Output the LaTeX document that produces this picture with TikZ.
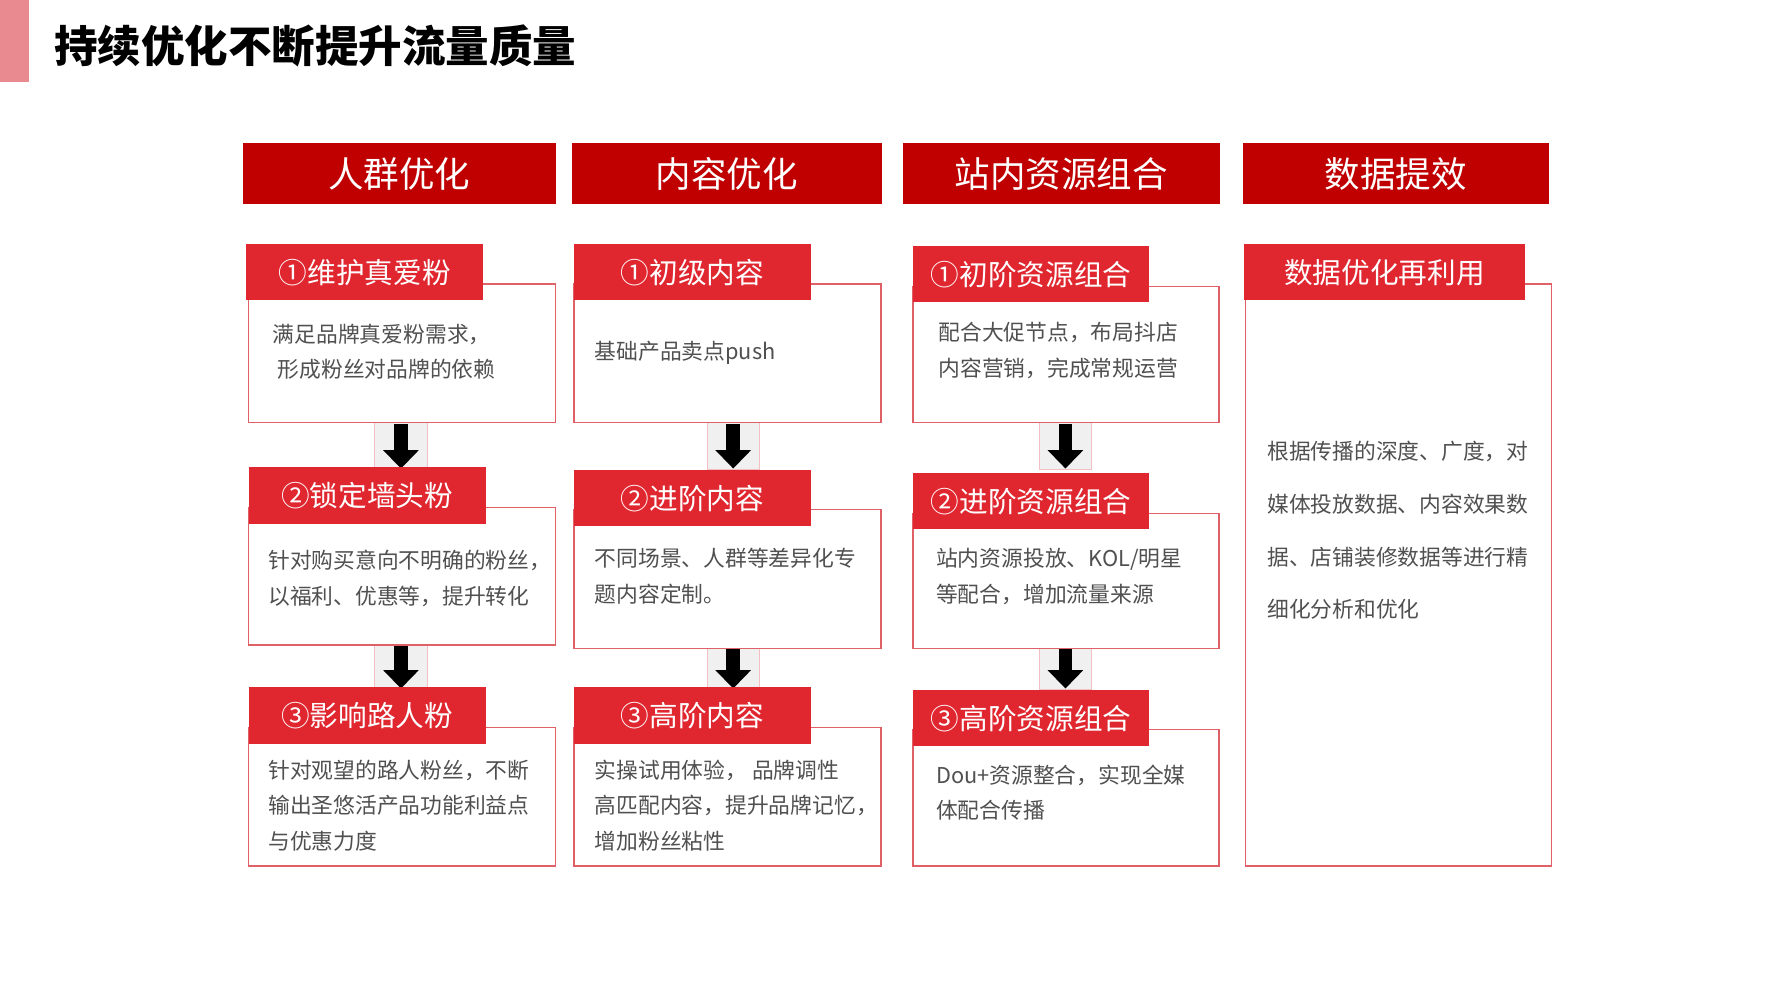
\documentclass[tikz,border=0pt]{standalone}
\usepackage{fontspec}
\setmainfont{Noto Sans CJK SC}
\usetikzlibrary{arrows.meta}
\definecolor{hdr}{HTML}{C00000}
\definecolor{tab}{HTML}{E0262F}
\definecolor{edge}{HTML}{E06068}
\definecolor{txt}{HTML}{505050}
\definecolor{pinkbar}{HTML}{E88A8F}
\tikzset{
 frame/.style={draw=edge,line width=1.2pt,fill=white},
 body/.style={text=txt,font=\fontsize{19}{31}\selectfont,anchor=west,align=left,inner sep=0},
 downarr/.style={line width=12pt,-{Triangle[width=30pt,length=16pt]},black},
 arrbg/.style={fill=black!6,draw=edge!40,line width=0.6pt}
}
\begin{document}
\begin{tikzpicture}[x=1pt,y=-1pt]
\useasboundingbox (0,0) rectangle (1552,873);
\fill[white] (0,0) rectangle (1552,873);
\fill[pinkbar] (0,0) rectangle (25,72);
\node[anchor=west,font=\fontsize{38}{38}\selectfont\bfseries,inner sep=0] (title) at (47,40) {持续优化不断提升流量质量};
\foreach \n/\a/\b/\t in {h1/212/485/人群优化,h2/499/770/内容优化,h3/788/1065/站内资源组合,h4/1085/1352/数据提效}{
 \fill[hdr] (\a,125) rectangle (\b,178);
 \node[text=white,font=\fontsize{31}{31}\selectfont,inner sep=0] (\n) at ({(\a+\b)/2},152) {\t};
}
\foreach \c/\x in {1/350,2/640,3/930}{
 \draw[arrbg] (\x-23,369) rectangle (\x+23,410);
 \draw[arrbg] (\x-23,563) rectangle (\x+23,602);
 \coordinate (a\c s1) at (\x,370); \coordinate (a\c e1) at (\x,409);
 \coordinate (a\c s2) at (\x,564); \coordinate (a\c e2) at (\x,601);
 \draw[downarr] (a\c s1) -- (a\c e1);
 \draw[downarr] (a\c s2) -- (a\c e2);
}
\newcommand{\stepcard}[8]{%
 \draw[frame] (#4,#6+35) rectangle (#5,#7);
 \fill[tab] (#2,#6) rectangle (#3,#6+49);
 \node[text=white,font=\fontsize{25}{25}\selectfont,inner sep=0] (#1) at ({(#2+#3)/2},#6+25) {#8};
}
\stepcard{c11}{215}{422}{217}{485}{213}{369}{①维护真爱粉}
\stepcard{c12}{217}{424}{217}{485}{408}{563}{②锁定墙头粉}
\stepcard{c13}{217}{424}{217}{485}{600}{756}{③影响路人粉}
\stepcard{c21}{501}{708}{501}{769}{213}{369}{①初级内容}
\stepcard{c22}{501}{708}{501}{769}{410}{566}{②进阶内容}
\stepcard{c23}{501}{708}{501}{769}{600}{756}{③高阶内容}
\stepcard{c31}{797}{1003}{797}{1064}{215}{369}{①初阶资源组合}
\stepcard{c32}{797}{1003}{797}{1064}{413}{566}{②进阶资源组合}
\stepcard{c33}{797}{1003}{797}{1064}{602}{756}{③高阶资源组合}
\stepcard{c41}{1086}{1331}{1087}{1354}{213}{756}{数据优化再利用}
\node[body] (t11) at (238,307) {满足品牌真爱粉需求，\\\ 形成粉丝对品牌的依赖};
\node[body] (t12) at (234,505) {针对购买意向不明确的粉丝，\\以福利、优惠等，提升转化};
\node[body] (t13) at (234,703) {针对观望的路人粉丝，不断\\输出圣悠活产品功能利益点\\与优惠力度};
\node[body] (t21) at (519,308) {基础产品卖点push};
\node[body] (t22) at (519,503) {不同场景、人群等差异化专\\题内容定制。};
\node[body] (t23) at (519,703) {实操试用体验，\ 品牌调性\\高匹配内容，提升品牌记忆，\\增加粉丝粘性};
\node[body] (t31) at (819,306) {配合大促节点，布局抖店\\内容营销，完成常规运营};
\node[body] (t32) at (817,503) {站内资源投放、KOL/明星\\等配合，增加流量来源};
\node[body] (t33) at (817,692) {Dou+资源整合，实现全媒\\体配合传播};
\node[body,font=\fontsize{19}{46}\selectfont] (t41) at (1106,463) {根据传播的深度、广度，对\\媒体投放数据、内容效果数\\据、店铺装修数据等进行精\\细化分析和优化};
\end{tikzpicture}
\end{document}
